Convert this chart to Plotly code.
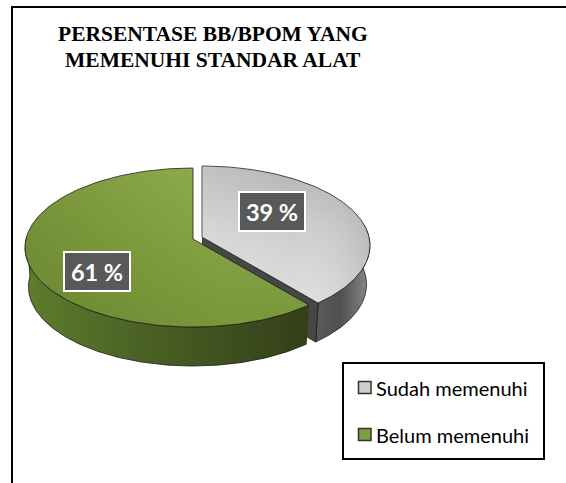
import numpy as np
import plotly.graph_objects as go

# ---- data ----
categories = ["Sudah memenuhi", "Belum memenuhi"]
values = [39, 61]
value_labels = ["39 %", "61 %"]
title_lines = ["PERSENTASE BB/BPOM YANG", "MEMENUHI STANDAR ALAT"]

W, H = 566, 483
CX, CY, A, B, K = 193.0, 239.0, 167.0, 78.6, 0.107
DEPTH = 39.0
BOTTOM_SCALE = 0.98
EXPLODE = (9.0, -2.0)


def project(theta, lift=0.0, off=(0.0, 0.0)):
    s, c = np.sin(theta), np.cos(theta)
    w = 1 + K * c
    scale = BOTTOM_SCALE if lift else 1.0
    return (CX + off[0] + scale * A * s / w,
            CY + off[1] + lift - B * c / w)


def arc(a0, a1, lift=0.0, off=(0.0, 0.0), n=160):
    return project(np.linspace(a0, a1, n), lift, off)


fracs = np.array(values, float) / sum(values)
a_split = 2 * np.pi * fracs[0]

fig = go.Figure()
LINE = dict(color="#1a1a1a", width=0.8)


def poly(xs, ys, fill=None, grad=None, line=LINE):
    kw = dict(x=xs, y=ys, mode="lines", fill="toself", line=line,
              hoverinfo="skip", showlegend=False)
    if grad:
        kw["fillgradient"] = grad
        kw["fillcolor"] = "rgba(0,0,0,0)"
    else:
        kw["fillcolor"] = fill
    fig.add_trace(go.Scatter(**kw))


def hgrad(stops):
    return dict(type="horizontal", colorscale=stops)


def vgrad(stops):
    return dict(type="vertical", colorscale=stops)


NOLINE = dict(color="rgba(0,0,0,0)", width=0)

# ---- exploded slice (grey) ----
g_off = EXPLODE
t0, t1 = 0.0, a_split
wall_start = np.pi / 2 * 0.9
xt, yt = arc(wall_start, t1, 0, g_off)
xb, yb = arc(wall_start, t1, DEPTH, g_off)
poly(np.r_[xt, xb[::-1]], np.r_[yt, yb[::-1]],
     grad=hgrad([[0, "#5a5a5a"], [0.45, "#505050"], [1, "#8a8a8a"]]))
# cut face
xc, yc = project(np.array([t1]), 0, g_off)
xcb, ycb = project(np.array([t1]), DEPTH, g_off)
ax, ay = CX + g_off[0], CY + g_off[1]
poly([ax, xc[0], xcb[0], ax], [ay, yc[0], ycb[0], ay + DEPTH], fill="#474747")
xa, ya = arc(t0, t1, 0, g_off)
gx, gy = np.r_[ax, xa, ax], np.r_[ay, ya, ay]
poly(gx, gy, grad=vgrad([[0, "#dfdfdf"], [0.5, "#cfcfcf"], [1, "#b4b4b4"]]))
poly(gx, gy, grad=hgrad([[0, "rgba(255,255,255,0.18)"], [0.55, "rgba(255,255,255,0)"],
                         [1, "rgba(90,90,90,0.18)"]]), line=NOLINE)

# ---- main slice (green) ----
xt, yt = arc(a_split, 1.5 * np.pi + 0.03)
xb, yb = arc(a_split, 1.5 * np.pi + 0.03, DEPTH)
poly(np.r_[xt, xb[::-1]], np.r_[yt, yb[::-1]],
     grad=hgrad([[0, "#5f7d2c"], [0.35, "#4d6526"], [1, "#333f18"]]))
xa, ya = arc(a_split, 2 * np.pi)
gx, gy = np.r_[CX, xa, CX], np.r_[CY, ya, CY]
poly(gx, gy, grad=vgrad([[0, "#78973a"], [1, "#90ae4c"]]))
poly(gx, gy, grad=hgrad([[0, "rgba(70,90,20,0.28)"], [0.7, "rgba(70,90,20,0)"],
                         [1, "rgba(70,90,20,0)"]]), line=NOLINE)

# ---- layout furniture ----
shapes = [
    dict(type="line", x0=12, x1=12, y0=6, y1=483, line=dict(color="black", width=2)),
    dict(type="line", x0=11, x1=566, y0=7, y1=7, line=dict(color="black", width=2)),
    dict(type="rect", x0=343, x1=544, y0=363, y1=459,
         line=dict(color="black", width=2), fillcolor="white"),
]

ann = []
for t, y in zip(title_lines, [34, 60]):
    ann.append(dict(x=213, y=y, text=f"<b>{t}</b>", showarrow=False,
                    font=dict(family="Liberation Serif", size=21.5, color="black"),
                    xanchor="center", yanchor="middle"))

for txt, (x, y) in zip(value_labels, [(272, 211.5), (96.5, 271.5)]):
    ann.append(dict(x=x, y=y, text=f"<b>{txt}</b>", showarrow=False,
                    font=dict(family="Lato", size=23.5, color="white"),
                    bgcolor="#595959", bordercolor="white", borderwidth=2,
                    borderpad=0, width=64, height=37,
                    xanchor="center", yanchor="middle"))

leg_y = [387.5, 434.5]
leg_fill = ["#cfcfcf", "#7f9e3c"]
for cat, y, col in zip(categories, leg_y, leg_fill):
    ann.append(dict(x=374, y=y, text=cat, showarrow=False,
                    font=dict(family="Lato", size=20, color="black"),
                    xanchor="left", yanchor="middle"))
    shapes.append(dict(type="rect", x0=358.5, x1=371, y0=y - 6, y1=y + 6,
                       line=dict(color="#333333", width=1.5), fillcolor=col))

fig.update_layout(
    width=W, height=H, margin=dict(l=0, r=0, t=0, b=0),
    paper_bgcolor="white", plot_bgcolor="white", showlegend=False,
    xaxis=dict(range=[0, W], visible=False, fixedrange=True),
    yaxis=dict(range=[H, 0], visible=False, fixedrange=True),
    shapes=shapes, annotations=ann,
)
fig.write_html("out.html", config={"displayModeBar": False},
               post_script="document.body.style.margin='0';document.body.style.overflow='hidden';")
